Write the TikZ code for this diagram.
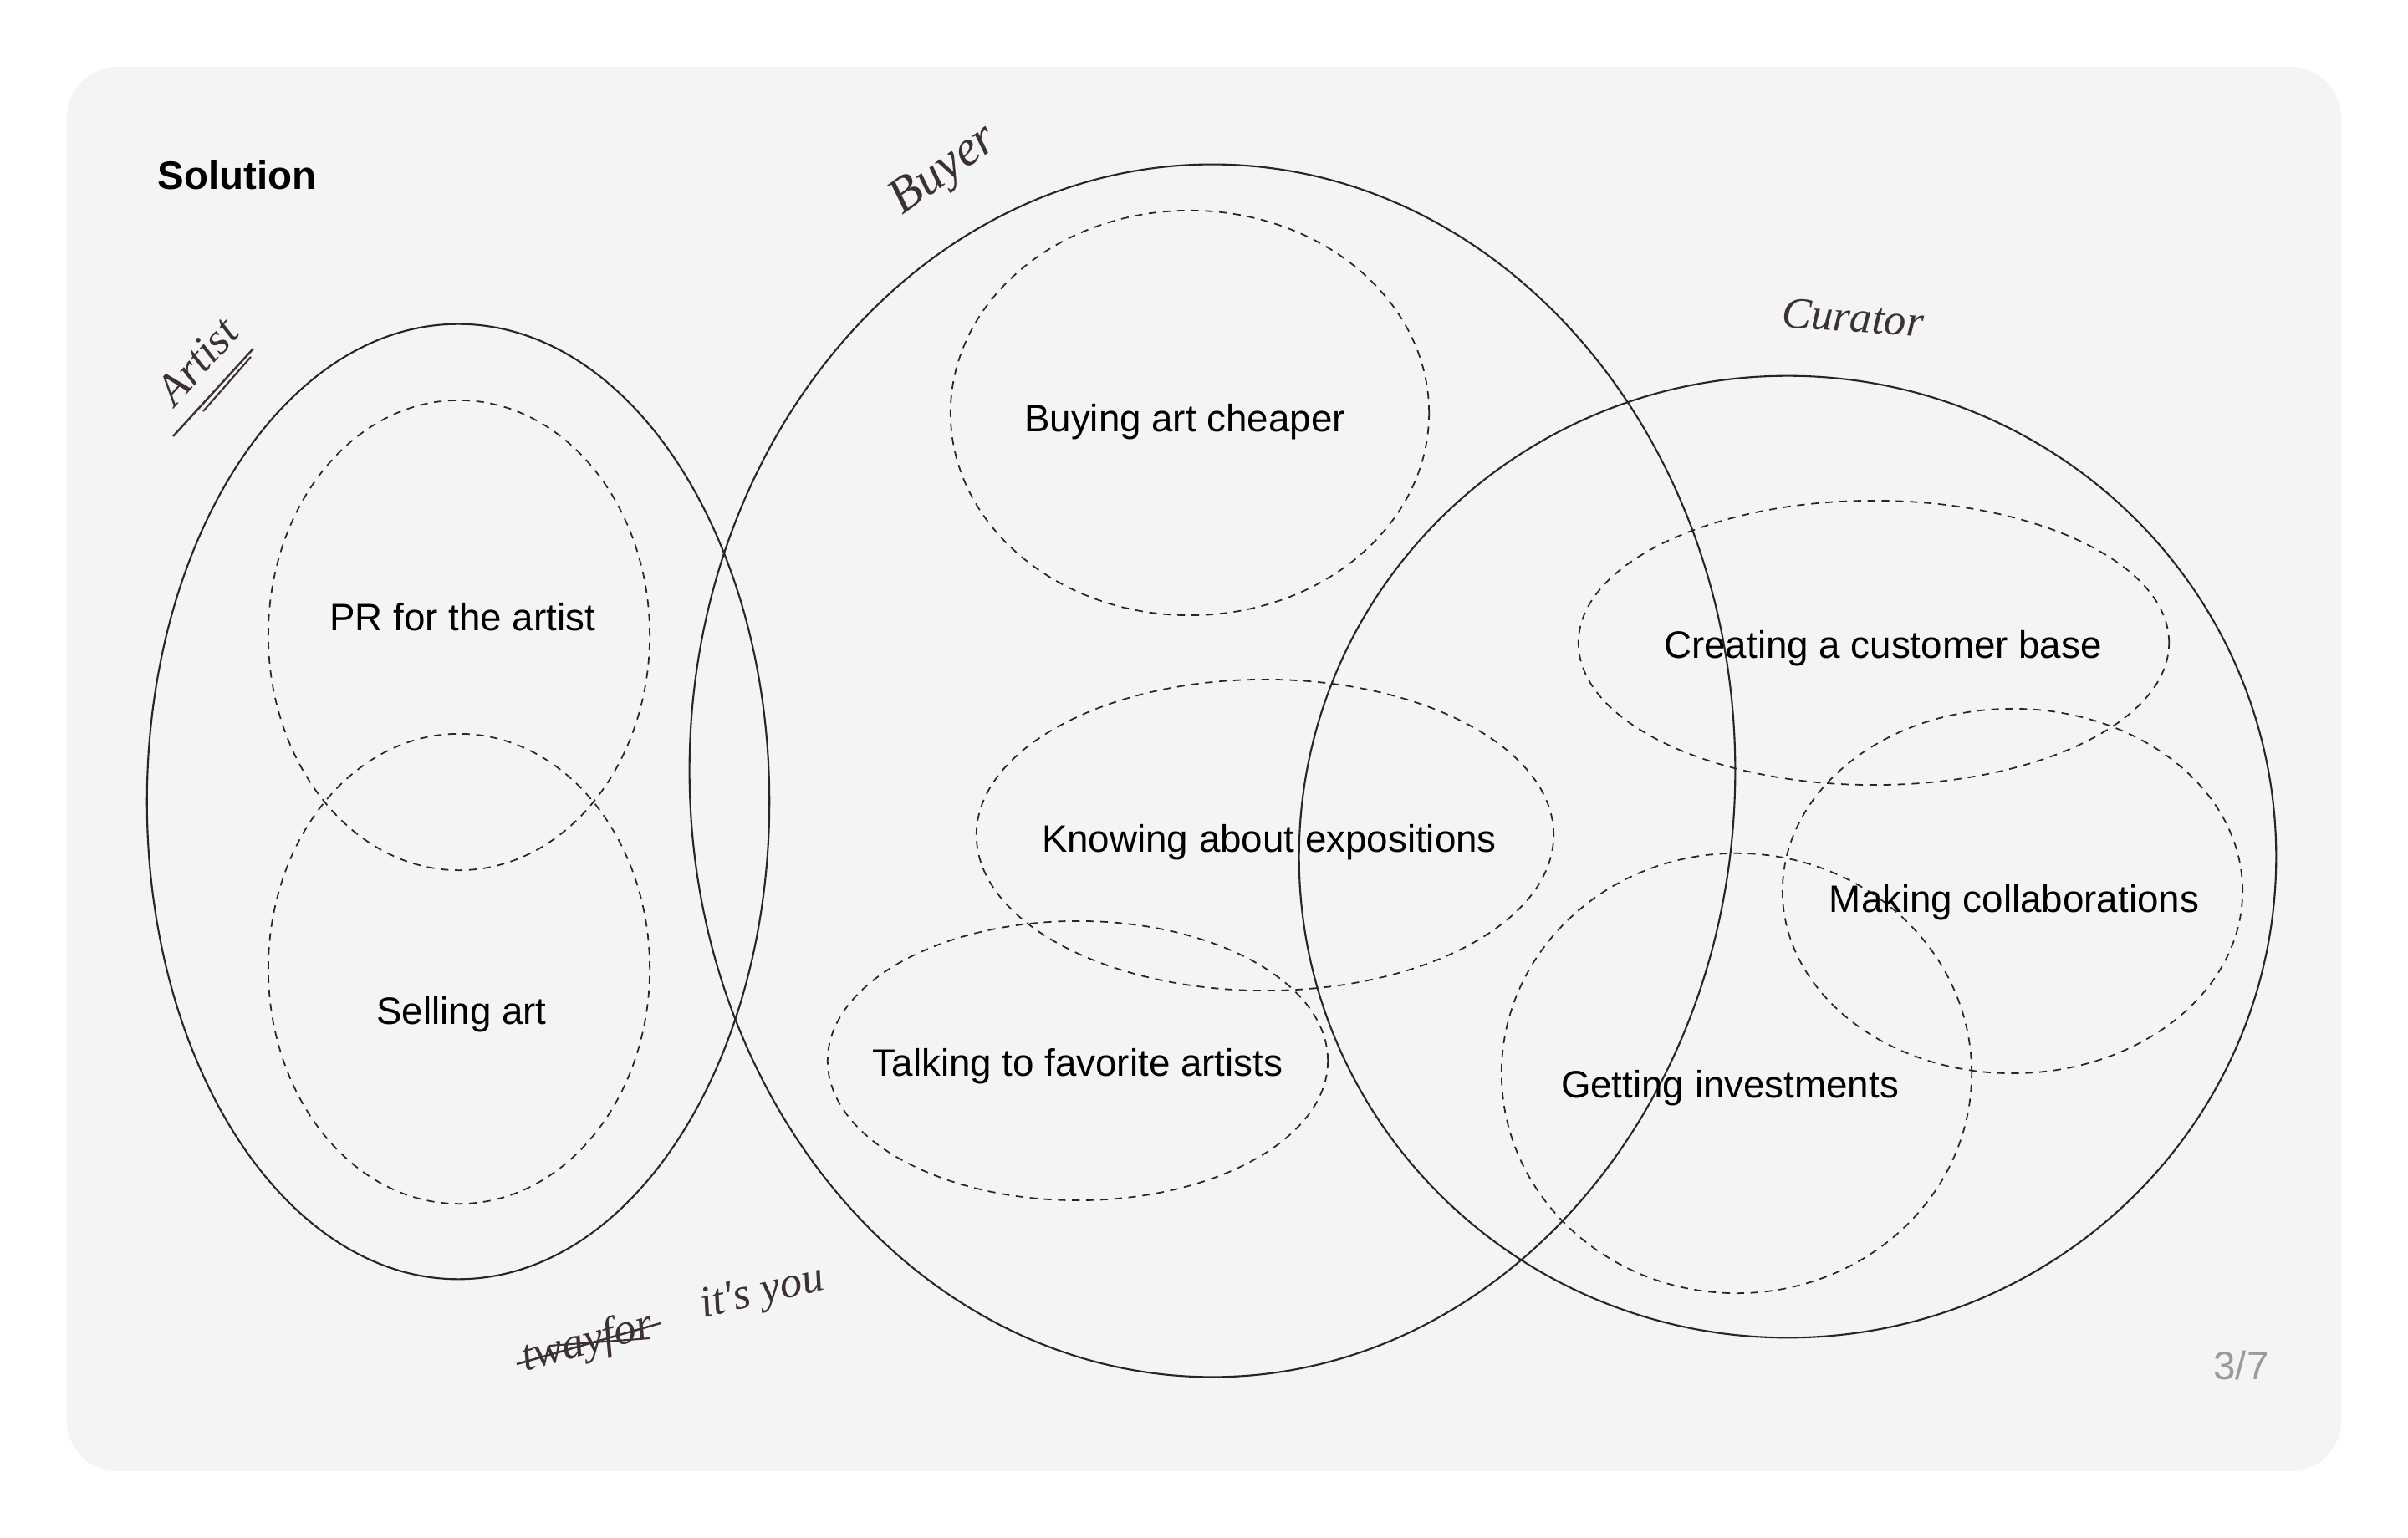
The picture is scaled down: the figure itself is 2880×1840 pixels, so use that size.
\documentclass[tikz,border=0pt]{standalone}
\usepackage{fontspec}
\setmainfont{Liberation Sans}
\newfontfamily\handfont{Liberation Serif}
\usetikzlibrary{shapes.geometric}
\definecolor{cardbg}{HTML}{F4F4F4}
\definecolor{ink}{HTML}{3A3036}
\definecolor{pagegrey}{HTML}{9A9A9A}

\begin{document}
\begin{tikzpicture}[x=0.01cm, y=-0.01cm,
		set/.style={draw=black!85, ellipse, inner sep=0pt, line width=0.6pt},
		sub/.style={set, dash pattern=on 2.6pt off 2.2pt, line width=0.5pt},
		lbl/.style={font=\fontsize{13}{15}\selectfont, text height=0.33cm, text depth=0pt, inner sep=0pt},
		hand/.style={font=\handfont\itshape\fontsize{#1}{#1}\selectfont, text=ink, inner sep=0pt},
		hand/.default=15]
		\useasboundingbox (0,0) rectangle (2880,1840);
		\fill[cardbg, rounded corners=0.6cm] (80,80) rectangle (2800,1760);

		\node[anchor=base west, font=\bfseries\fontsize{13.5}{15}\selectfont] (title) at (176,227) {Solution};
		\node[anchor=base west, text=pagegrey, font=\fontsize{13.5}{15}\selectfont] (page) at (2635,1650) {3/7};

		% artist
		\node[set, minimum width=7.44cm, minimum height=11.42cm] (artist) at (548,959) {};
		\node[sub, minimum width=4.56cm, minimum height=5.62cm] (pr) at (549,760) {};
		\node[sub, minimum width=4.56cm, minimum height=5.62cm] (sell) at (549,1159) {};
		\node[lbl] (prtext) at (553,738) {PR for the artist};
		\node[lbl] (selltext) at (552,1209) {Selling art};

		% buyer
		\node[set, minimum width=12.5cm, minimum height=14.5cm] (buyer) at (1450,922) {};
		\node[sub, minimum width=5.72cm, minimum height=4.84cm] (cheap) at (1423,494) {};
		\node[sub, minimum width=6.9cm, minimum height=3.72cm] (expo) at (1513,999) {};
		\node[sub, minimum width=5.98cm, minimum height=3.34cm] (talk) at (1289,1269) {};
		\node[lbl] (cheaptext) at (1417,500) {Buying art cheaper};
		\node[lbl] (expotext) at (1518,1003) {Knowing about expositions};
		\node[lbl] (talktext) at (1289,1271) {Talking to favorite artists};

		% curator
		\node[set, minimum width=11.68cm, minimum height=11.5cm] (curator) at (2138,1025) {};
		\node[sub, minimum width=7.06cm, minimum height=3.4cm] (base) at (2241,769) {};
		\node[sub, minimum width=5.5cm, minimum height=4.36cm] (collab) at (2407,1066) {};
		\node[sub, minimum width=5.62cm, minimum height=5.26cm] (invest) at (2077,1284) {};
		\node[lbl] (basetext) at (2252,771) {Creating a customer base};
		\node[lbl] (collabtext) at (2409,1075) {Making collaborations};
		\node[lbl] (investtext) at (2069,1297) {Getting investments};

		% handwriting
		\node[hand=15, rotate=48] (artistnote) at (236,432) {Artist};
		\draw[ink, line width=0.7pt] (207,522) -- (303,417);
		\draw[ink, line width=0.6pt] (243,492) -- (300,427);
		\node[hand=17, rotate=36] (buyernote) at (1130,205) {Buyer};
		\node[hand, rotate=-4] (curatornote) at (2216,380) {Curator};
		\node[hand, rotate=13] (younote) at (912,1548) {it's you};
		\node[hand, rotate=15] (oldnote) at (703,1607) {twayfor};
		\draw[ink, line width=0.7pt] (618,1632) -- (790,1583);
		\draw[ink, line width=0.6pt] (657,1610) -- (777,1601);

	\end{tikzpicture}
\end{document}
